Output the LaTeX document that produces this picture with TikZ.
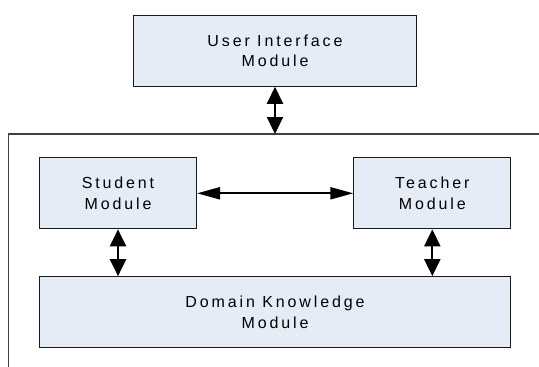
\documentclass[tikz,border=0pt]{standalone}
\usepackage{fontspec}
\setmainfont{Liberation Sans}[LetterSpace=18]
\usetikzlibrary{arrows.meta}
\definecolor{modfill}{RGB}{230,236,246}
\definecolor{modline}{RGB}{25,25,25}
\definecolor{frameline}{RGB}{64,64,64}

\begin{document}
\begin{tikzpicture}[
  x=1pt, y=-1pt,
  box/.style={draw=modline, line width=1.1pt, fill=modfill, minimum height=71pt, align=center, inner sep=0pt, font=\fontsize{16}{20.3}\selectfont},
  link/.style={line width=2.2pt, {Triangle[length=17pt,width=16pt]}-{Triangle[length=17pt,width=16pt]}},
  hlink/.style={line width=2.2pt, {Triangle[length=23pt,width=12pt]}-{Triangle[length=23pt,width=12pt]}}]

\useasboundingbox (0,0) rectangle (539,367);

% Moldura do sistema
\coordinate (top) at (275,134);
\draw[frameline, line width=1.3pt] (539,134) -- (8.3,134) -- (8.3,367);

% Modulos
\node[box, minimum width=283pt] (ui) at (275,50.7) {User Interface\\Module};
\node[box, minimum width=157pt] (student) at (118,193.3) {Student\\Module};
\node[box, minimum width=157pt] (teacher) at (432.3,193.3) {Teacher\\Module};
\node[box, minimum width=471pt] (domain) at (275,312.2) {Domain Knowledge\\Module};

% Ligacoes
\draw[link] (ui.south) -- (top);
\draw[hlink] (student.east) -- (teacher.west);
\draw[link] (student.south) -- (student.south |- domain.north);
\draw[link] (teacher.south) -- (teacher.south |- domain.north);

\end{tikzpicture}
\end{document}
